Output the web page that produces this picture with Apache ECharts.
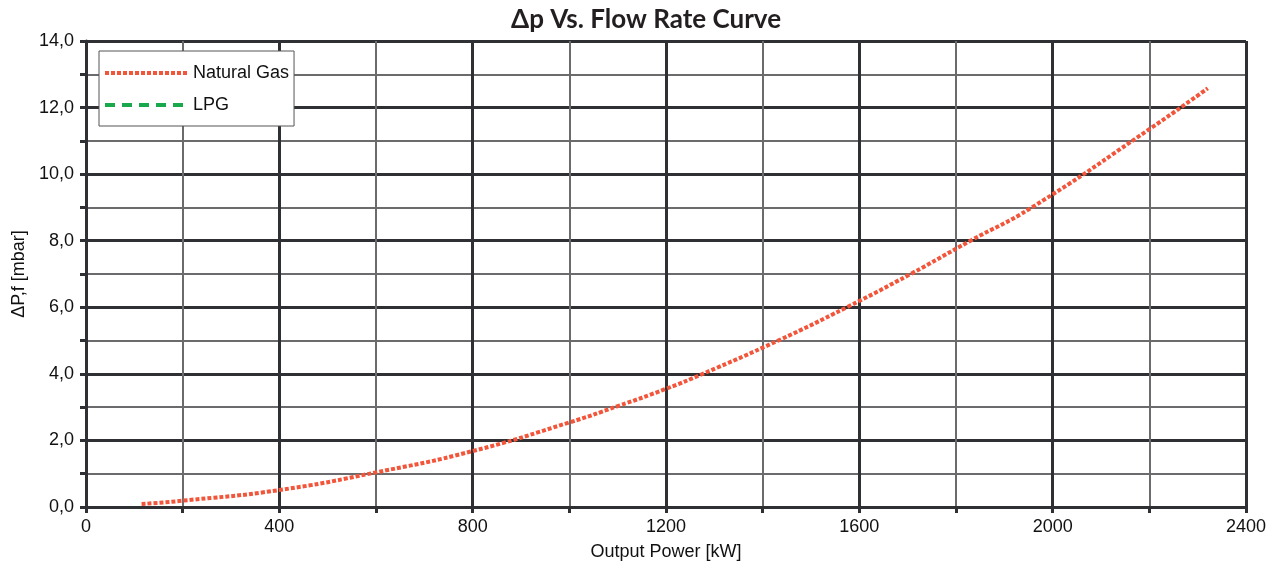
<!DOCTYPE html>
<html>
<head>
<meta charset="utf-8">
<script src="https://cdn.jsdelivr.net/npm/echarts@6/dist/echarts.min.js"></script>
<style>
html,body{margin:0;padding:0;background:#fff;}
#chart{width:1279px;height:566px;}
</style>
</head>
<body>
<div id="chart"></div>
<script>
// Data
const naturalGasPower = [115, 200, 400, 600, 800, 1000, 1100, 1200, 1276, 1432, 1574, 1706, 1830, 1957, 2200, 2321];
const naturalGasDp    = [0.09, 0.19, 0.51, 1.04, 1.68, 2.54, 3.03, 3.55, 4.0, 5.0, 6.0, 7.0, 8.0, 9.0, 11.35, 12.58];
const lpgPower = [];
const lpgDp = [];
const seriesNames = ['Natural Gas', 'LPG'];
const titleText = 'Δp Vs. Flow Rate Curve';
const xAxisTitle = 'Output Power [kW]';
const yAxisTitle = 'ΔP,f [mbar]';

const pair = (xs, ys) => xs.map((x, i) => [x, ys[i]]);

const chart = echarts.init(document.getElementById('chart'), null, {renderer: 'canvas'});
const labelFont = {fontFamily: 'Liberation Sans, Arial, sans-serif', fontSize: 18, color: '#111'};

chart.setOption({
  animation: false,
  backgroundColor: '#fff',
  title: {
    text: titleText,
    left: 506, top: 2,
    textStyle: {fontFamily: 'Lato, sans-serif', fontWeight: 'bold', fontSize: 26, color: '#231f20'}
  },
  grid: {left: 86, right: 33, top: 41, bottom: 59, containLabel: false},
  legend: {
    orient: 'vertical',
    left: 99, top: 51,
    padding: [13, 5, 12, 4],
    itemGap: 14,
    itemWidth: 83, itemHeight: 20,
    backgroundColor: '#fff',
    borderColor: '#555', borderWidth: 1,
    itemStyle: {opacity: 0},
    lineStyle: {width: 4},
    textStyle: {fontFamily: 'Liberation Sans, Arial, sans-serif', fontSize: 18, color: '#111', padding: [0,0,0,0]},
    data: seriesNames
  },
  xAxis: {
    type: 'value', min: 0, max: 2400, interval: 400,
    name: xAxisTitle, nameLocation: 'middle', nameGap: 36,
    nameTextStyle: labelFont,
    axisLine: {show: true, onZero: false, lineStyle: {color: '#2e3033', width: 3}},
    axisTick: {show: true, length: 6, inside: false, lineStyle: {color: '#2e3033', width: 3}},
    minorTick: {show: true, splitNumber: 2, length: 6, lineStyle: {color: '#2e3033', width: 3}},
    axisLabel: Object.assign({margin: 11, formatter: v => String(v)}, labelFont),
    splitLine: {show: true, lineStyle: {color: '#2e3033', width: 3}},
    minorSplitLine: {show: true, lineStyle: {color: '#6b6b6e', width: 2}}
  },
  yAxis: {
    type: 'value', min: 0, max: 14, interval: 2,
    name: yAxisTitle, nameLocation: 'middle', nameGap: 58, nameRotate: 90,
    nameTextStyle: labelFont,
    axisLine: {show: true, onZero: false, lineStyle: {color: '#2e3033', width: 3}},
    axisTick: {show: true, length: 6, inside: false, lineStyle: {color: '#2e3033', width: 3}},
    minorTick: {show: true, splitNumber: 2, length: 6, lineStyle: {color: '#2e3033', width: 3}},
    axisLabel: Object.assign({margin: 12, formatter: v => v.toFixed(1).replace('.', ',')}, labelFont),
    splitLine: {show: true, lineStyle: {color: '#2e3033', width: 3}},
    minorSplitLine: {show: true, lineStyle: {color: '#6b6b6e', width: 2}}
  },
  series: [
    {
      name: seriesNames[0], type: 'line', smooth: true,
      showSymbol: false, symbol: 'none',
      data: pair(naturalGasPower, naturalGasDp),
      itemStyle: {color: '#f2553a'},
      lineStyle: {color: '#f2553a', width: 4, type: [4, 2]}
    },
    {
      name: seriesNames[1], type: 'line', smooth: true,
      showSymbol: false, symbol: 'none',
      data: pair(lpgPower, lpgDp),
      itemStyle: {color: '#1aa84c'},
      lineStyle: {color: '#1aa84c', width: 4, type: [10, 7]}
    }
  ]
});
</script>
</body>
</html>
